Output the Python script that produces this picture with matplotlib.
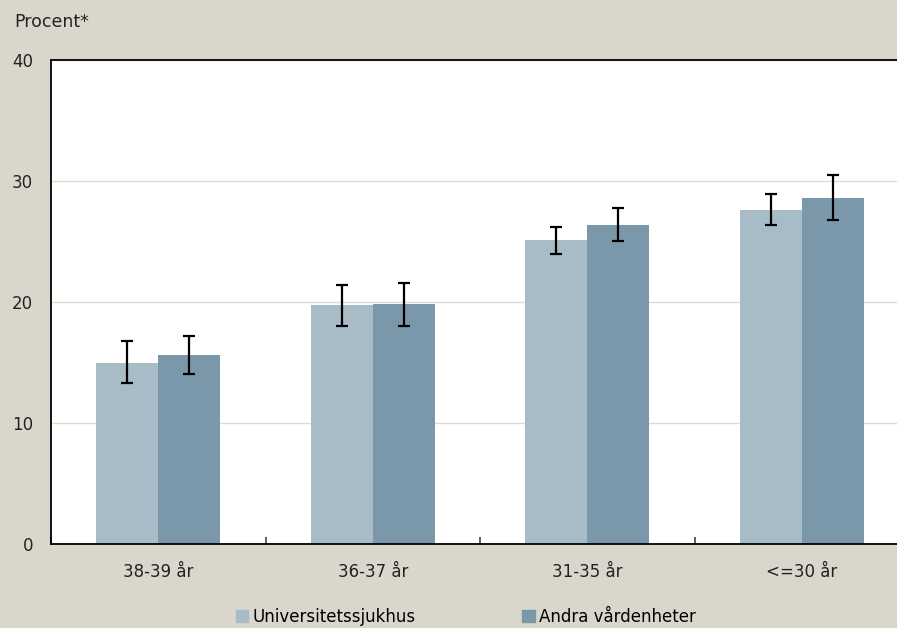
import numpy as np
import matplotlib.pyplot as plt
from matplotlib.patches import Patch

# --- Data ---
categories = ['38-39 år', '36-37 år', '31-35 år', '<=30 år']
series_names = ['Universitetssjukhus', 'Andra vårdenheter']

uni_vals = [15.0, 19.75, 25.1, 27.6]
uni_low = [13.3, 18.0, 24.0, 26.4]
uni_high = [16.8, 21.4, 26.2, 28.9]

other_vals = [15.6, 19.8, 26.4, 28.6]
other_low = [14.05, 18.0, 25.0, 26.8]
other_high = [17.2, 21.55, 27.8, 30.5]

y_ticks = [0, 10, 20, 30, 40]

# --- Style ---
BG = '#D9D7CB'
C_UNI = '#A7BCC7'
C_OTHER = '#7B98AA'
W, H = 897, 628

plt.rcParams['font.family'] = ['DejaVu Sans']

fig = plt.figure(figsize=(W / 100, H / 100), dpi=100, facecolor=BG)
ax = fig.add_axes([51 / W, (H - 544) / H, 858 / W, 484 / H])
ax.set_facecolor('white')

x = np.arange(len(categories))
bw = 0.289

uni_err = [np.array(uni_vals) - np.array(uni_low), np.array(uni_high) - np.array(uni_vals)]
oth_err = [np.array(other_vals) - np.array(other_low), np.array(other_high) - np.array(other_vals)]

ax.bar(x - bw / 2, uni_vals, bw, color=C_UNI, zorder=2)
ax.bar(x + bw / 2, other_vals, bw, color=C_OTHER, zorder=2)
ax.errorbar(x - bw / 2, uni_vals, yerr=uni_err, fmt='none', ecolor='black',
            elinewidth=1.6, capsize=4.5, capthick=1.6, zorder=3)
ax.errorbar(x + bw / 2, other_vals, yerr=oth_err, fmt='none', ecolor='black',
            elinewidth=1.6, capsize=4.5, capthick=1.6, zorder=3)

ax.set_xlim(-0.5, len(categories) - 0.5)
ax.set_ylim(0, 40)
ax.set_yticks(y_ticks)
ax.yaxis.grid(True, color='#DEDCD2', linewidth=1.0, zorder=0)
ax.tick_params(axis='y', length=0, labelsize=12, pad=13, colors='#222222')

ax.set_xticks(x)
ax.set_xticklabels(categories)
ax.tick_params(axis='x', length=0, labelsize=12, pad=14, colors='#222222')
# small boundary ticks between groups
ax.set_xticks(np.arange(len(categories) + 1) - 0.5, minor=True)
ax.tick_params(axis='x', which='minor', direction='in', length=5, width=1.2, color='#444444')

for side in ['left', 'bottom', 'top', 'right']:
    ax.spines[side].set_color('black')
    ax.spines[side].set_linewidth(1.3)

fig.text(14 / W, 1 - 22 / H, 'Procent*', fontsize=12.5, color='#222222', va='center', ha='left')

handles = [Patch(color=C_UNI), Patch(color=C_OTHER)]
fig.legend(handles, series_names, loc='center', bbox_to_anchor=(466 / W, 1 - 617 / H),
           ncol=2, frameon=False, fontsize=12, handlelength=0.75, handleheight=0.75,
           handletextpad=0.25, columnspacing=6.4, borderaxespad=0)

fig.savefig('out.png', dpi=100, facecolor=BG)
